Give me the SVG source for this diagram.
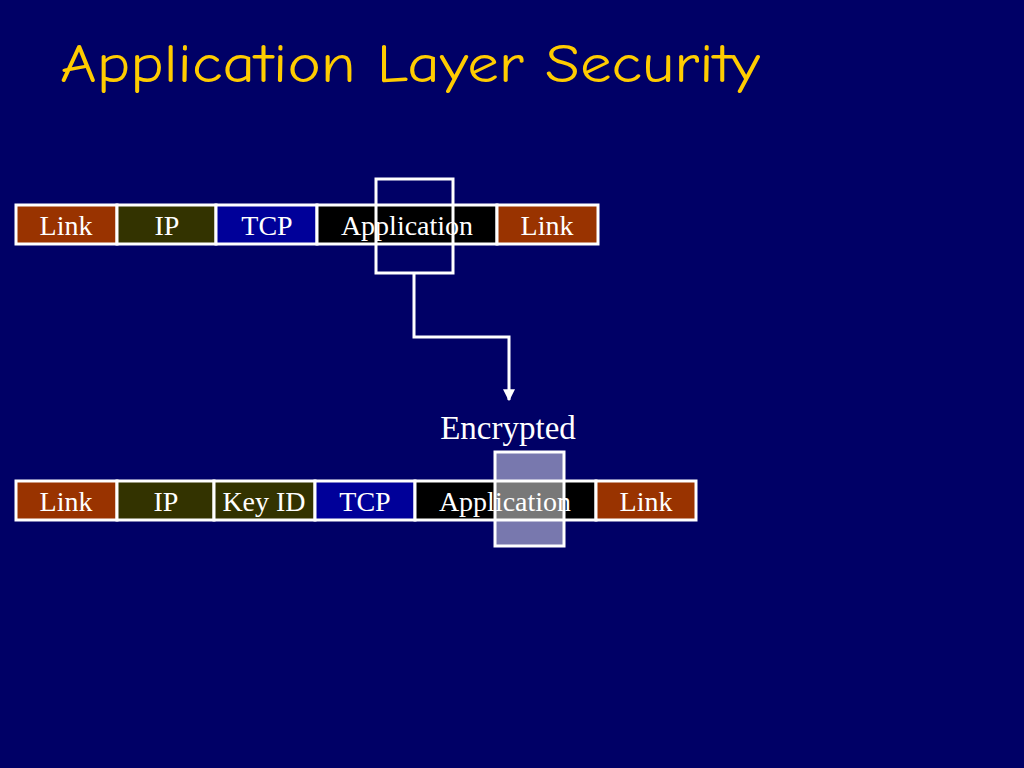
<svg xmlns="http://www.w3.org/2000/svg" width="1024" height="768" viewBox="0 0 1024 768">
<defs>
<style>
.cell{stroke:#ffffff;stroke-width:3}
.link{fill:#993300}
.ip{fill:#333300}
.tcp{fill:#000099}
.app{fill:#000000}
.lbl{font-family:"Liberation Serif","Times New Roman",serif;font-size:28px;fill:#ffffff;text-anchor:middle}
.title{font-family:"Comic Sans MS","Comic Neue","Open Sans","DejaVu Sans",sans-serif;font-size:54px;fill:#ffcc00}
.conn{fill:none;stroke:#ffffff;stroke-width:3}
</style>
<marker id="arr" viewBox="0 0 10 10" refX="9" refY="5" markerWidth="4" markerHeight="4" orient="auto" markerUnits="strokeWidth">
<path d="M0,0 L10,5 L0,10 z" fill="#ffffff"/>
</marker>
</defs>
<rect width="1024" height="768" fill="#000066"/>
<text class="title" x="60" y="82" textLength="700" lengthAdjust="spacingAndGlyphs">Application Layer Security</text>

<g id="row1">
<g id="r1-link1"><rect class="cell link" x="16" y="205" width="101" height="39"/><text class="lbl" x="66" y="235">Link</text></g>
<g id="r1-ip"><rect class="cell ip" x="117" y="205" width="99" height="39"/><text class="lbl" x="167" y="235">IP</text></g>
<g id="r1-tcp"><rect class="cell tcp" x="216" y="205" width="101" height="39"/><text class="lbl" x="267" y="235">TCP</text></g>
<g id="r1-app"><rect class="cell app" x="317" y="205" width="180" height="39"/><text class="lbl" x="407" y="235">Application</text></g>
<g id="r1-link2"><rect class="cell link" x="497" y="205" width="101" height="39"/><text class="lbl" x="547" y="235">Link</text></g>
<g id="r1-select"><rect x="376" y="179" width="77" height="94" fill="none" stroke="#ffffff" stroke-width="3"/></g>
</g>

<g id="connectors">
<path class="conn" d="M414,273 L414,337 L509,337 L509,400" marker-end="url(#arr)"/>
</g>

<g id="encrypted-label"><text x="508" y="439" font-family="'Liberation Serif','Times New Roman',serif" font-size="33" fill="#ffffff" text-anchor="middle">Encrypted</text></g>

<g id="row2">
<g id="r2-link1"><rect class="cell link" x="16" y="481" width="101" height="39"/><text class="lbl" x="66" y="511">Link</text></g>
<g id="r2-ip"><rect class="cell ip" x="117" y="481" width="97" height="39"/><text class="lbl" x="166" y="511">IP</text></g>
<g id="r2-keyid"><rect class="cell ip" x="214" y="481" width="101" height="39"/><text class="lbl" x="264" y="511">Key ID</text></g>
<g id="r2-tcp"><rect class="cell tcp" x="315" y="481" width="100" height="39"/><text class="lbl" x="365" y="511">TCP</text></g>
<g id="r2-app"><rect class="cell app" x="415" y="481" width="181" height="39"/><text class="lbl" x="505" y="511">Application</text></g>
<g id="r2-link2"><rect class="cell link" x="596" y="481" width="100" height="39"/><text class="lbl" x="646" y="511">Link</text></g>
<g id="r2-encrypted"><rect x="495" y="452" width="69" height="94" fill="#ffffff" fill-opacity="0.47" stroke="#ffffff" stroke-width="3"/></g>
</g>
</svg>
